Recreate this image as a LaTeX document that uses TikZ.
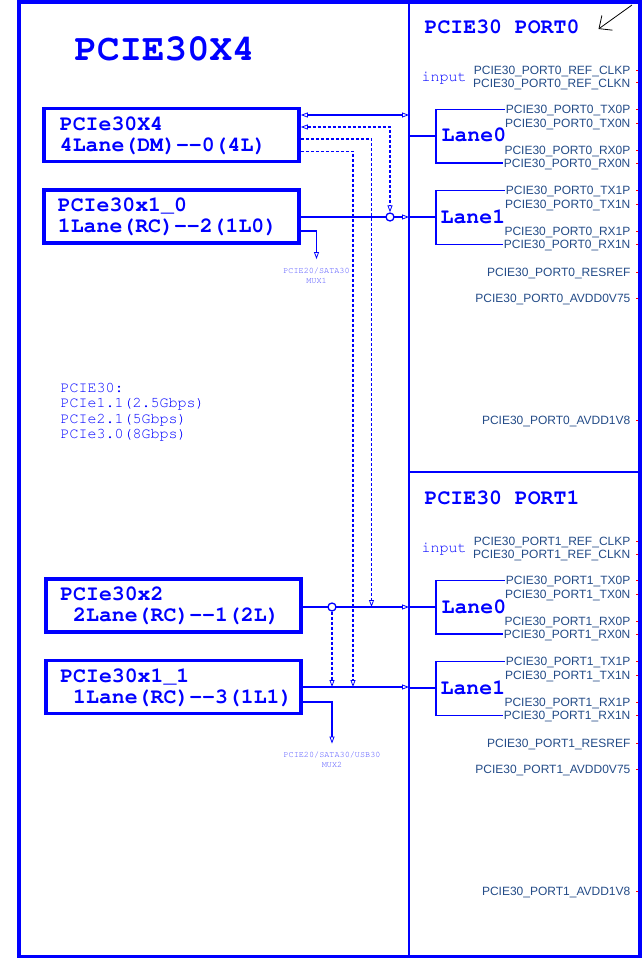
\documentclass[tikz,border=0pt]{standalone}
\usepackage[T1]{fontenc}
\usepackage{fontspec}
\newfontfamily\sigfont{Liberation Sans}
\newcommand\courier{\fontencoding{T1}\fontfamily{pcr}\selectfont}
\newcommand\nohyphbreak{\exhyphenpenalty=10000\relax}
\usetikzlibrary{arrows.meta,positioning}

\definecolor{sigblue}{RGB}{35,75,135}

\tikzset{
  chipbox/.style={draw=blue, line width=3.8pt, text=blue, align=left,
    font=\courier\bfseries\fontsize{21.5}{21}\selectfont\nohyphbreak,
    minimum width=255pt, minimum height=53pt, text width=227pt,
    inner xsep=14pt, inner ysep=2pt},
  porttitle/.style={anchor=west, inner sep=0pt, text=blue, text height=12pt,
    text depth=0pt, font=\courier\bfseries\fontsize{21.5}{21}\selectfont},
  lanelbl/.style={porttitle},
  smalltext/.style={text=blue, inner sep=0pt, font=\courier\fontsize{15}{15.5}\selectfont},
  muxlbl/.style={text=blue!70, inner sep=0pt, align=center,
    font=\courier\fontsize{8.5}{10}\selectfont},
  sig/.style={anchor=east, inner sep=0pt, text=sigblue, text height=8.6pt,
    text depth=0pt, font=\sigfont\fontsize{12}{12}\selectfont},
  link/.style={draw=blue, line width=1.3pt},
  dlink/.style={link, dash pattern=on 3pt off 2pt},
  junc/.style={circle, draw=blue, fill=white, line width=1.3pt, minimum size=8pt, inner sep=0pt},
  pin/.style={draw=red, line width=1pt},
}

\begin{document}
\begin{tikzpicture}[x=1pt, y=-1pt, line width=1.3pt,
    >={Triangle[open, length=7pt, width=5pt, line width=0.8pt]}]
  \useasboundingbox (0,0) rectangle (642,963);

  % Port side: pin names, pins and lanes
  \foreach \p/\dy in {0/0, 1/471}{
    \begin{scope}[shift={(0,\dy)}]
      \foreach \s/\y [count=\i] in {REF\_CLKP/70.5, REF\_CLKN/83, TX0P/109.5, TX0N/123.5,
          RX0P/150, RX0N/163, TX1P/190.5, TX1N/204, RX1P/231, RX1N/244.5,
          RESREF/272, AVDD0V75/298.5, AVDD1V8/420}{
        \node[sig] (sig\p-\i) at (631,\y) {PCIE30\_PORT\p\_\s};
        \draw[pin] (sig\p-\i.east) ++(5,0) -- ++(6,0);
      }
      \node[porttitle] (port\p) at (424,27.5) {PCIE30 PORT\p};
      \node[smalltext, anchor=west] (in\p) at (421,78) {input};

      % the two lanes of the port
      \coordinate (bus\p-0) at (409,136);
      \coordinate (brk\p-0) at (436,136);
      \coordinate (bus\p-1) at (409,217);
      \coordinate (brk\p-1) at (436,217);
      \draw[link] (sig\p-3.west) -| (brk\p-0) |- (sig\p-6.west);
      \draw[link] (sig\p-7.west) -| (brk\p-1) |- (sig\p-10.west);
      \draw[link] (bus\p-0) -- (brk\p-0);
      \draw[link] (bus\p-1) -- (brk\p-1);
      \node[lanelbl, right=5pt of brk\p-0] (lane\p-0) {Lane0};
      \node[lanelbl, right=4pt of brk\p-1] (lane\p-1) {Lane1};
    \end{scope}
  }

  % Frame and port divider
  \draw[blue, line width=1.7pt] (409,2) -- (409,956);
  \draw[blue, line width=1.3pt] (409,472) -- (640,472);
  \draw[blue, line width=3.6pt] (19,1.8) rectangle (639.8,956.3);

  % Marker arrow in the corner
  \coordinate (mk0) at (632,5);
  \coordinate (mk1) at (598.5,29);
  \draw[black, line width=0.8pt, -{Straight Barb[length=10pt, width=18pt]}] (mk0) -- (mk1);

  % Controller side
  \node[text=blue, inner sep=0pt, anchor=west, text height=21pt, text depth=0pt,
    font=\courier\bfseries\fontsize{37.5}{37.5}\selectfont] (title) at (74,50) {PCIE30X4};

  \node[chipbox, inner xsep=16pt, text width=223pt] (x4) at (171.4,135)
    {PCIe30X4\\4Lane(DM)-{}-0(4L)};
  \node[chipbox] (x1a) at (171.4,216.2) {PCIe30x1\_0\\1Lane(RC)-{}-2(1L0)};
  \node[chipbox] (x2) at (173.8,605.7) {PCIe30x2\\\hspace*{0.6em}2Lane(RC)-{}-1(2L)};
  \node[chipbox] (x1b) at (173.8,687) {PCIe30x1\_1\\\hspace*{0.6em}1Lane(RC)-{}-3(1L1)};

  \node[smalltext, anchor=west, align=left] (speeds) at (60,412)
    {PCIE30:\\PCIe1.1(2.5Gbps)\\PCIe2.1(5Gbps)\\PCIe3.0(8Gbps)};

  % Taps on the port bus
  \coordinate (tap0) at (409,115);
  \coordinate (tap1) at (409,217);
  \coordinate (tap2) at (409,607);
  \coordinate (tap3) at (409,687);
  \coordinate (j0) at (390,217);
  \coordinate (j1) at (332,607);
  \coordinate (d0) at (371.5,139);
  \coordinate (d1) at (353,151.3);
  \coordinate (d2) at (390,127);

  \draw[link, <->] (x4.east |- tap0) -- (tap0);
  \draw[link, ->] (x1a.east |- tap1) -- (tap1);
  \draw[link, ->] (x2.east |- tap2) -- (tap2);
  \draw[link, ->] (x1b.east |- tap3) -- (tap3);
  \node[junc] (jc0) at (j0) {};
  \node[junc] (jc1) at (j1) {};
  \draw[dlink, <->] (x4.east |- d2) -| (jc0.north);
  \draw[dlink, ->] (x4.east |- d0) -| (d0 |- tap2);
  \draw[dlink, ->] (x4.east |- d1) -| (d1 |- tap3);
  \draw[dlink, ->] (jc1.south) -- (jc1 |- tap3);

  % Muxed outputs
  \node[muxlbl] (mux1) at (316.5,275.5) {PCIE20/SATA30\\MUX1};
  \draw[link, ->] (x1a.east |- 0,231) -| ([yshift=8pt]mux1.north);
  \node[muxlbl] (mux2) at (332,760) {PCIE20/SATA30/USB30\\MUX2};
  \draw[link, ->] (x1b.east |- 0,702) -| ([yshift=8pt]mux2.north);

\end{tikzpicture}
\end{document}
